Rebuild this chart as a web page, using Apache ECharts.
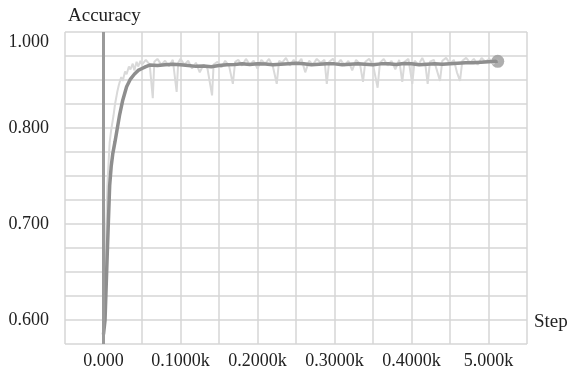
<!DOCTYPE html>
<html>
<head>
<meta charset="utf-8">
<script src="https://cdn.jsdelivr.net/npm/echarts@6/dist/echarts.min.js"></script>
<style>
  html, body { margin: 0; padding: 0; background: #fff; }
  #chart { width: 574px; height: 379px; }
</style>
</head>
<body>
<div id="chart"></div>
<script>
// smoothed accuracy curve (dark line)
const smoothSteps = [0, 2, 5, 8, 10, 12, 15, 18, 21, 25, 30, 35, 40, 45, 50, 55, 60, 70, 80, 90,
  100, 110, 120, 130, 140, 150, 160, 170, 180, 190, 200, 210, 220, 230, 240, 250, 260, 270, 280, 290,
  300, 310, 320, 330, 340, 350, 360, 370, 380, 390, 400, 410, 420, 430, 440, 450, 460, 470, 480, 490, 500, 512];
const smoothValues = [0.585, 0.600, 0.672, 0.740, 0.760, 0.773, 0.786, 0.800, 0.814, 0.829, 0.843, 0.851, 0.856, 0.860, 0.862, 0.864, 0.8655, 0.865, 0.866, 0.8665,
  0.8658, 0.865, 0.8642, 0.8645, 0.8638, 0.865, 0.866, 0.8662, 0.867, 0.8662, 0.867, 0.8666, 0.866, 0.8665, 0.867, 0.8675, 0.867, 0.866, 0.8665, 0.867,
  0.8668, 0.866, 0.8665, 0.867, 0.8665, 0.866, 0.8668, 0.867, 0.8662, 0.8672, 0.867, 0.866, 0.8665, 0.8668, 0.8665, 0.867, 0.8675, 0.868, 0.868, 0.8685, 0.869, 0.8695];

// raw accuracy (light line)
const rawSteps = [0, 3, 5, 8, 10, 13, 15, 18, 20, 23, 25, 28, 30, 33, 35, 38, 40, 43, 45, 48,
  50, 55, 60, 64, 66, 70, 75, 80, 85, 90, 95, 97, 100, 105, 110, 115, 120, 125, 130, 135,
  141, 143, 148, 153, 158, 163, 168, 171, 175, 180, 185, 190, 195, 200, 205, 210, 215, 220, 225, 228,
  232, 237, 242, 247, 252, 257, 262, 267, 272, 277, 282, 287, 290, 293, 298, 303, 308, 313, 318, 323,
  328, 333, 337, 340, 345, 350, 356, 359, 364, 369, 374, 379, 384, 388, 391, 396, 401, 404, 409, 414,
  418, 421, 424, 429, 433, 437, 440, 445, 450, 455, 459, 463, 466, 471, 476, 481, 486, 491, 496, 501, 506, 512];
const rawValues = [0.590, 0.680, 0.740, 0.785, 0.798, 0.813, 0.825, 0.838, 0.845, 0.853, 0.849, 0.859, 0.856, 0.864, 0.861, 0.867, 0.860, 0.869, 0.864, 0.870,
  0.866, 0.871, 0.866, 0.831, 0.869, 0.872, 0.866, 0.870, 0.864, 0.871, 0.8375, 0.868, 0.872, 0.866, 0.870, 0.862, 0.868, 0.858, 0.866, 0.862,
  0.834, 0.866, 0.869, 0.863, 0.870, 0.865, 0.846, 0.869, 0.871, 0.865, 0.872, 0.866, 0.870, 0.862, 0.871, 0.867, 0.872, 0.864, 0.846, 0.870,
  0.868, 0.873, 0.865, 0.871, 0.867, 0.872, 0.858, 0.870, 0.866, 0.872, 0.868, 0.871, 0.846, 0.869, 0.872, 0.866, 0.871, 0.865, 0.870, 0.860,
  0.871, 0.867, 0.848, 0.869, 0.872, 0.866, 0.842, 0.868, 0.872, 0.865, 0.870, 0.861, 0.871, 0.848, 0.869, 0.872, 0.846, 0.870, 0.866, 0.873,
  0.866, 0.846, 0.869, 0.871, 0.860, 0.849, 0.870, 0.873, 0.867, 0.871, 0.858, 0.849, 0.870, 0.873, 0.868, 0.872, 0.866, 0.873, 0.869, 0.872, 0.867, 0.871];

// tick labels as printed on the figure
const xTickValues = [0, 100, 200, 300, 400, 500];
const xTickLabels = ['0.000', '0.1000k', '0.2000k', '0.3000k', '0.4000k', '5.000k'];
const yTickValues = [0.6, 0.7, 0.8, 0.9];
const yTickLabels = ['0.600', '0.700', '0.800', '1.000'];

function zip(xs, ys) {
  return xs.map((x, i) => [x, ys[i]]);
}

function pickLabel(values, labels, v) {
  const i = values.findIndex((t) => Math.abs(t - v) < 1e-6);
  return i < 0 ? '' : labels[i];
}

const font = 'Liberation Serif';
const gridColor = '#d6d6d6';
const last = smoothSteps.length - 1;

const chart = echarts.init(document.getElementById('chart'));
chart.setOption({
  animation: false,
  title: [
    { text: 'Accuracy', left: 63, top: 2, textStyle: { fontFamily: font, fontSize: 19, fontWeight: 'normal', color: '#222' } },
    { text: 'Step', left: 529, top: 308, textStyle: { fontFamily: font, fontSize: 19, fontWeight: 'normal', color: '#222' } },
  ],
  grid: { left: 65, right: 47, top: 32, bottom: 35 },
  xAxis: {
    type: 'value',
    min: -50,
    max: 550,
    interval: 50,
    axisLine: { show: false },
    axisTick: { show: false },
    axisLabel: {
      margin: 8,
      fontFamily: font,
      fontSize: 18,
      color: '#222',
      formatter: (v) => pickLabel(xTickValues, xTickLabels, v),
    },
    splitLine: { show: true, lineStyle: { color: gridColor, width: 1.5 } },
  },
  yAxis: {
    type: 'value',
    min: 0.575,
    max: 0.9,
    interval: 0.025,
    axisLine: { show: false },
    axisTick: { show: false },
    axisLabel: {
      margin: 16,
      fontFamily: font,
      fontSize: 18,
      color: '#222',
      formatter: (v) => {
        const s = pickLabel(yTickValues, yTickLabels, v);
        return Math.abs(v - 0.9) < 1e-6 ? '{shift|' + s + '}' : s;
      },
      rich: { shift: { padding: [20, 0, 0, 0], fontFamily: font, fontSize: 18, color: '#222' } },
    },
    splitLine: { show: true, lineStyle: { color: gridColor, width: 1.5 } },
  },
  series: [
    {
      name: 'raw',
      type: 'line',
      data: zip(rawSteps, rawValues),
      symbol: 'none',
      lineStyle: { color: '#d9d9d9', width: 2 },
      markLine: {
        silent: true,
        symbol: ['none', 'none'],
        label: { show: false },
        lineStyle: { color: '#9a9a9a', width: 3, type: 'solid' },
        data: [{ xAxis: 0 }],
      },
    },
    {
      name: 'smoothed',
      type: 'line',
      data: zip(smoothSteps, smoothValues),
      symbol: 'none',
      lineStyle: { color: '#8e8e8e', width: 3.5 },
    },
    {
      name: 'last',
      type: 'scatter',
      data: [[smoothSteps[last], smoothValues[last]]],
      symbolSize: 13,
      itemStyle: { color: '#9a9a9a' },
    },
  ],
});
</script>
</body>
</html>
